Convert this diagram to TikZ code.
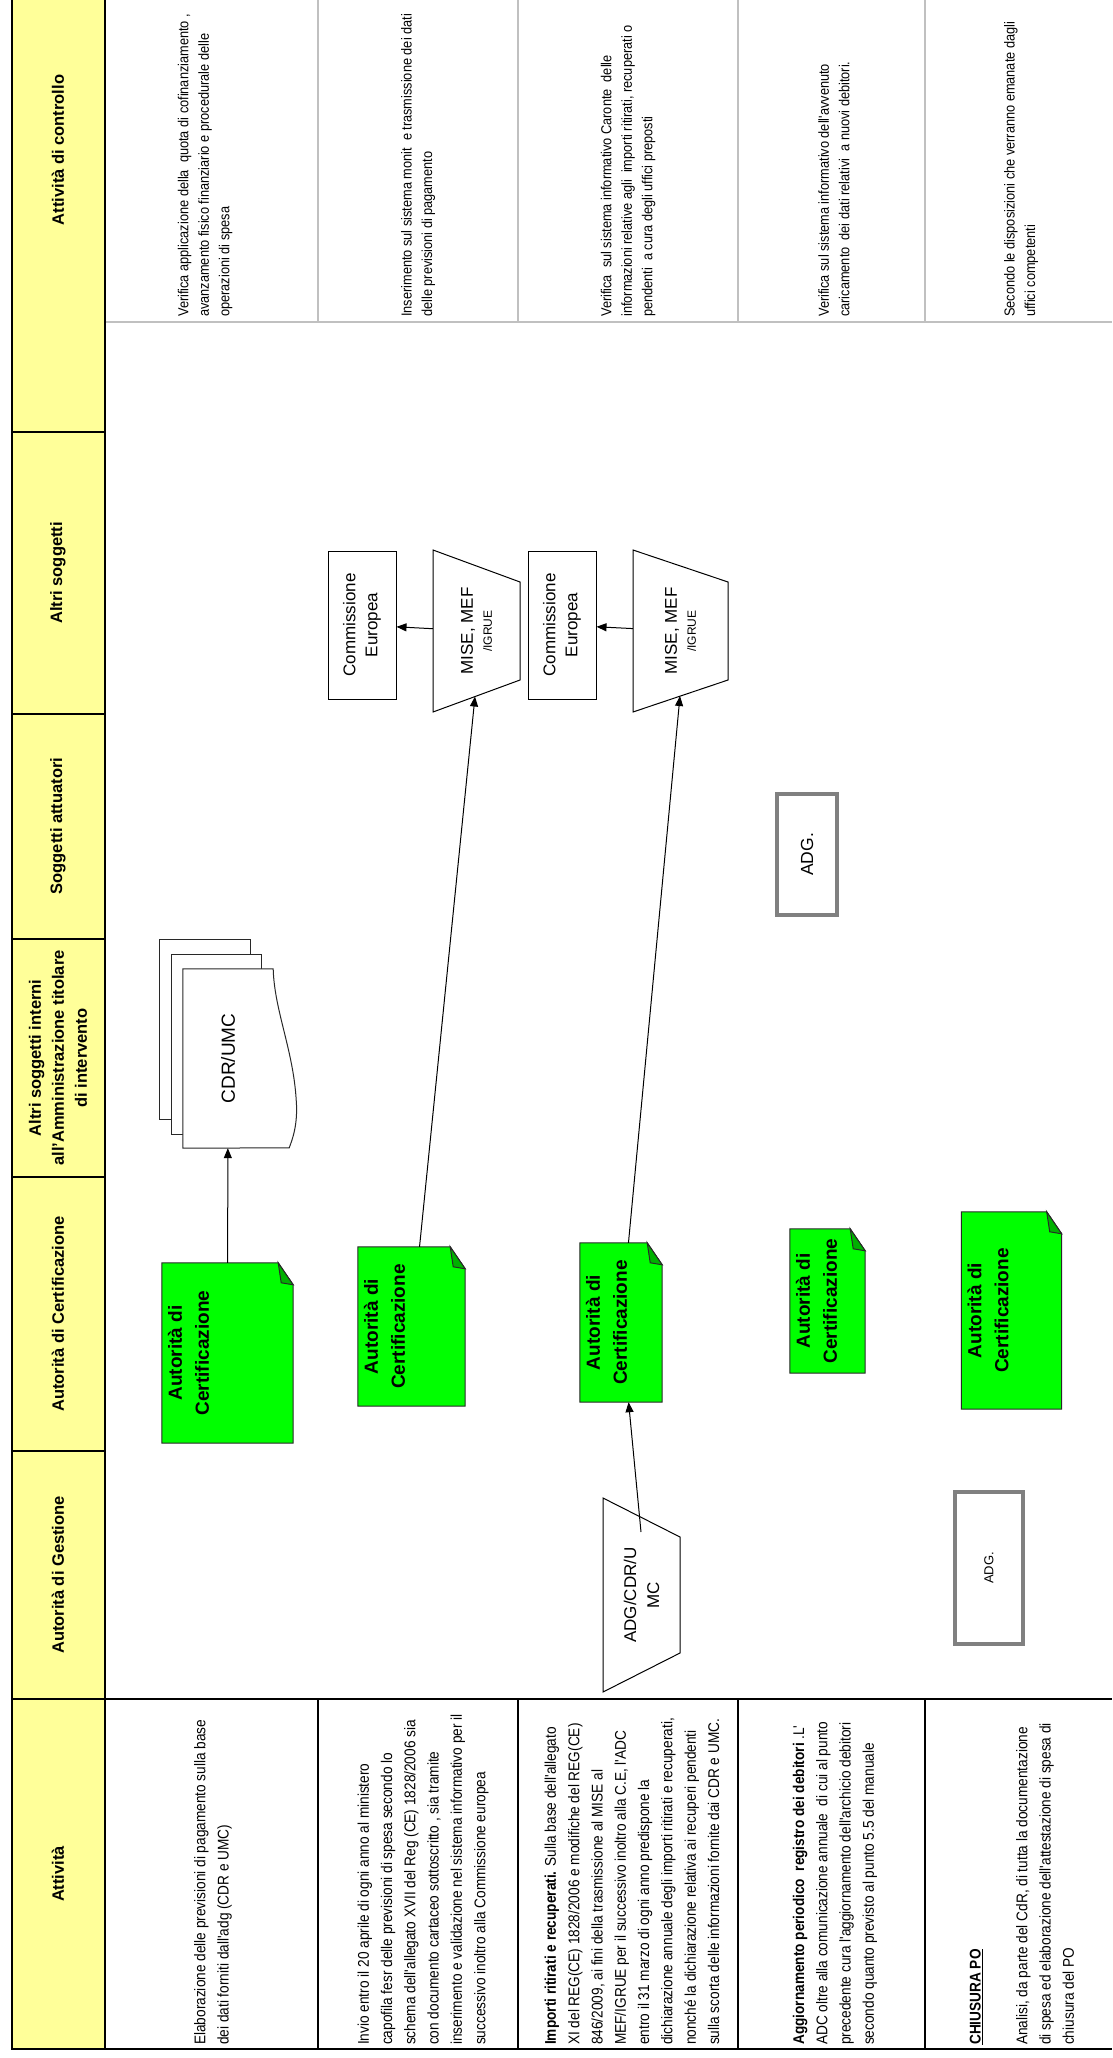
\documentclass[tikz,border=0pt]{standalone}
\usepackage{fontspec}
\setmainfont{Liberation Sans}
\newfontfamily\narrowsf[FakeStretch=0.88]{Liberation Sans}
\usetikzlibrary{arrows.meta,calc,backgrounds}
\definecolor{headyellow}{RGB}{255,255,153}
\definecolor{certgreen}{RGB}{0,255,0}
\definecolor{folddark}{RGB}{0,176,0}
\definecolor{noteedge}{RGB}{40,40,40}
\definecolor{ctrlgrey}{RGB}{192,192,192}
\definecolor{adggrey}{RGB}{128,128,128}

\begin{document}
\begin{tikzpicture}[x=1pt,y=-1pt,
  table line/.style={line width=2.7pt},
  ctrl line/.style={line width=2pt,ctrlgrey},
  head text/.style={rotate=90,align=center,font=\bfseries\fontsize{16.5}{23}\selectfont},
  act text/.style={rotate=90,anchor=west,align=left,inner sep=0pt,font=\narrowsf\fontsize{15.5}{23.3}\selectfont},
  ctrl text/.style={rotate=90,anchor=west,align=left,inner sep=0pt,font=\narrowsf\fontsize{14.5}{20.5}\selectfont},
  cert note/.style={rectangle,inner sep=0pt},
  note text/.style={rotate=90,anchor=north,align=center,inner sep=0pt,font=\bfseries\fontsize{19}{27}\selectfont},
  soft box/.style={rectangle,draw,line width=1pt,rotate=90,minimum width=148pt,minimum height=68pt,align=center,inner sep=2pt,font=\fontsize{17}{22}\selectfont},
  trap box/.style={rectangle,rotate=90,align=center,inner sep=2pt},
  trap line/.style={draw,line width=1pt,fill=white},
  adg box/.style={rectangle,draw=adggrey,line width=4pt,rotate=90,inner sep=2pt},
  sheet/.style={draw=noteedge,fill=white,line width=1pt},
  conn/.style={line width=1pt,-{Triangle[length=10pt,width=8pt]}}]

  \useasboundingbox (0,0) rectangle (1112,2058);

  % table frame
  \fill[headyellow] (12,0) rectangle (105,2049);
  \draw[ctrl line] (105,322) -- (1112,322);
  \foreach \xr in {318,518,738,925}
    \draw[ctrl line] (\xr,0) -- (\xr,322);
  \draw[table line] (12,0) -- (12,2049) -- (1112,2049);
  \draw[table line] (105,0) -- (105,2049);
  \draw[table line] (12,1699) -- (1112,1699);
  \foreach \yh in {432,714,939,1177,1451}
    \draw[table line] (12,\yh) -- (105,\yh);
  \foreach \xr in {318,518,738,925}
    \draw[table line] (\xr,1699) -- (\xr,2049);

  % lane headings
  \node[head text] (hctrl) at (58,150) {Attività di controllo};
  \node[head text] (haltri) at (58,573) {Altri soggetti};
  \node[head text] (hsogg) at (58,826) {Soggetti attuatori};
  \node[head text] (hint) at (58,1058) {Altri soggetti interni\\all'Amministrazione titolare\\di intervento};
  \node[head text] (hadc) at (58,1314) {Autorità di Certificazione};
  \node[head text] (hadg) at (58,1575) {Autorità di Gestione};
  \node[head text] (hatt) at (58,1874) {Attività};

  % activities
  \node[act text] (a1) at (213,2045) {Elaborazione delle previsioni di pagamento sulla base\\dei dati forniti dall'adg (CDR e UMC)};
  \node[act text] (a2) at (423,2045) {Invio entro il 20 aprile di ogni anno al ministero\\capofila fesr delle previsioni di spesa secondo lo\\schema dell'allegato XVII del Reg (CE) 1828/2006 sia\\con documento cartaceo sottoscritto , sia tramite\\inserimento e validazione nel sistema informativo per il\\successivo inoltro alla Commissione europea};
  \node[act text] (a3) at (632,2045) {\textbf{Importi ritirati e recuperati.} Sulla base dell'allegato\\XI del REG(CE) 1828/2006 e modifiche del REG(CE)\\846/2009, ai fini della trasmissione al MISE al\\MEF/IGRUE per il successivo inoltro alla C.E, l'ADC\\entro il 31 marzo di ogni anno predispone la\\dichiarazione annuale degli importi ritirati e recuperati,\\nonché la dichiarazione relativa ai recuperi pendenti\\sulla scorta delle informazioni fornite dai CDR e UMC.};
  \node[act text] (a4) at (835,2045) {\textbf{Aggiornamento periodico\ \ registro dei debitori} .L'\\ADC oltre alla comunicazione annuale\ \ di cui al punto\\precedente cura l'aggiornamento dell'archicio debitori\\secondo quanto previsto al punto 5.5 del manuale};
  \node[act text] (a5) at (1022,2045) {\underline{\textbf{CHIUSURA PO}}\\[23.3pt]Analisi, da parte del CdR, di tutta la documentazione\\di spesa ed elaborazione dell'attestazione di spesa di\\chiusura del PO};

  % controls
  \node[ctrl text] (k1) at (205,317) {Verifica applicazione della\ \ quota di cofinanziamento ,\\avanzamento fisico finanziario e procedurale delle\\operazioni di spesa};
  \node[ctrl text] (k2) at (418,317) {Inserimento sul sistema monit\ \ e trasmissione dei dati\\delle previsioni di pagamento};
  \node[ctrl text] (k3) at (628,317) {Verifica\ \ sul sistema informativo Caronte\ \ delle\\informazioni relative agli\ \ importi ritirati, recuperati o\\pendenti\ \ a cura degli uffici preposti};
  \node[ctrl text] (k4) at (834,317) {Verifica sul sistema informativo dell'avvenuto\\caricamento\ \ dei dati relativi\ \ a nuovi debitori.};
  \node[ctrl text] (k5) at (1021,317) {Secondo le disposizioni che verranno emanate dagli\\uffici competenti};

  % certification notes
  \node[cert note,minimum width=131pt,minimum height=180pt] (ac1) at (227.5,1353) {};
  \node[cert note,minimum width=107pt,minimum height=159pt] (ac2) at (411.5,1326.5) {};
  \node[cert note,minimum width=82pt,minimum height=159pt] (ac3) at (621,1322.5) {};
  \node[cert note,minimum width=75pt,minimum height=144pt] (ac4) at (827.5,1301) {};
  \node[cert note,minimum width=100pt,minimum height=197pt] (ac5) at (1011.5,1310.5) {};
  \foreach \n in {ac1,ac2,ac3,ac4,ac5}
    \node[note text] (\n t) at ($(\n.west)+(6,0)$) {Autorità di\\Certificazione};

  % other shapes
  \node[inner sep=0pt,minimum width=90pt,minimum height=179pt] (cdr) at (228,1058.5) {\rotatebox{90}{\fontsize{19}{22}\selectfont CDR/UMC}};
  \node[soft box] (ce1) at (362,625) {Commissione\\Europea};
  \node[soft box] (ce2) at (562,625) {Commissione\\Europea};
  \node[trap box,minimum width=162pt,minimum height=87pt,font=\fontsize{17}{19}\selectfont] (mise1) at (476.5,631) {MISE, MEF\\{\fontsize{12}{14}\selectfont /IGRUE}};
  \node[trap box,minimum width=162pt,minimum height=95pt,font=\fontsize{17}{19}\selectfont] (mise2) at (680.5,631) {MISE, MEF\\{\fontsize{12}{14}\selectfont /IGRUE}};
  \node[trap box,minimum width=194pt,minimum height=77pt,font=\fontsize{17}{23}\selectfont] (adgcdr) at (641.5,1595) {ADG/CDR/U\\MC};
  \node[adg box,minimum width=121pt,minimum height=60pt,font=\fontsize{17.5}{20}\selectfont] (adg4) at (807,854.5) {ADG.};
  \node[adg box,minimum width=152pt,minimum height=68pt,font=\fontsize{13}{15}\selectfont] (adg5) at (989,1568) {ADG.};
  \coordinate (mise1foot) at ($(mise1)+(-1.5,65.5)$);
  \coordinate (mise2foot) at ($(mise2)+(-0.5,65)$);
  \coordinate (adgcdrtop) at ($(adgcdr)+(-0.5,-63)$);

  \begin{scope}[on background layer]
    \foreach \n in {ac1,ac2,ac3,ac4,ac5}{
      \filldraw[fill=certgreen,draw=noteedge,line width=1pt]
        (\n.south west) -- (\n.north west) -- ([xshift=-15pt]\n.north east)
        -- ([yshift=-22pt]\n.north east) -- (\n.south east) -- cycle;
      \filldraw[fill=folddark,draw=noteedge,line width=1pt]
        ([xshift=-15pt]\n.north east) -- ([xshift=-12pt,yshift=-20pt]\n.north east)
        -- ([yshift=-22pt]\n.north east) -- cycle;
    }
    \draw[sheet] ([shift={(-23,-29)}]cdr.south west) rectangle ([shift={(-23,-29)}]cdr.north east);
    \draw[sheet] ([shift={(-11.5,-14)}]cdr.south west) rectangle ([shift={(-11.5,-14)}]cdr.north east);
    \draw[sheet] (cdr.north west) -- (cdr.north east)
      .. controls ([shift={(1,41)}]cdr.north east) and ([shift={(20,81)}]cdr.north east) .. ([shift={(23,131)}]cdr.north east)
      .. controls ([shift={(25,156)}]cdr.north east) and ([shift={(19,171)}]cdr.north east) .. ([shift={(16,179)}]cdr.north east)
      -- (cdr.south west) -- cycle;
    % trapezoids, wide side to the left
    \path[trap line] ($(mise1)+(-43.5,-81)$) -- ($(mise1)+(43.5,-49)$) -- ($(mise1)+(43.5,49)$) -- ($(mise1)+(-43.5,81)$) -- cycle;
    \path[trap line] ($(mise2)+(-47.5,-81)$) -- ($(mise2)+(47.5,-49)$) -- ($(mise2)+(47.5,49)$) -- ($(mise2)+(-47.5,81)$) -- cycle;
    \path[trap line] ($(adgcdr)+(-38.5,-97)$) -- ($(adgcdr)+(38.5,-58)$) -- ($(adgcdr)+(38.5,58)$) -- ($(adgcdr)+(-38.5,97)$) -- cycle;
  \end{scope}

  % connectors
  \draw[conn] (ac1) -- (cdr);
  \draw[conn] (ac2) -- (mise1foot);
  \draw[conn] (ac3) -- (mise2foot);
  \draw[conn] (mise1) -- (ce1);
  \draw[conn] (mise2) -- (ce2);
  \draw[conn] (adgcdrtop) -- (ac3);
\end{tikzpicture}
\end{document}
